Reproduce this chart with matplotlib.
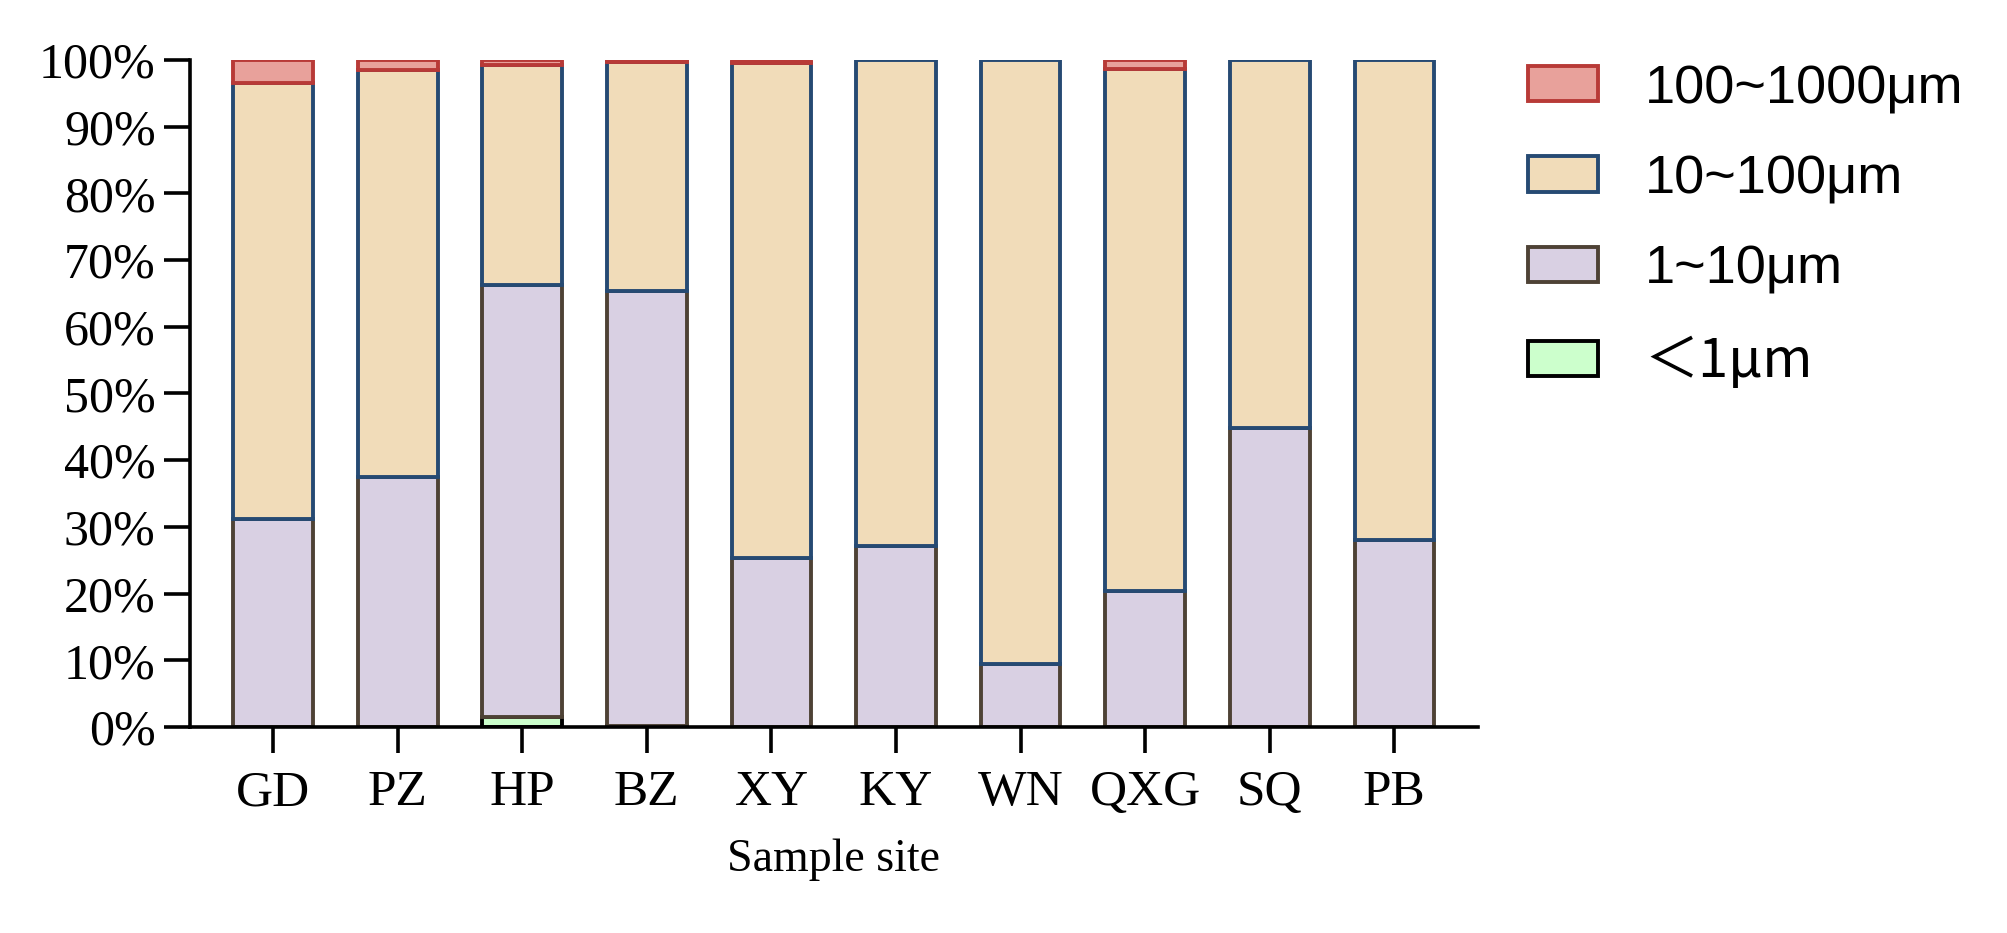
import matplotlib
matplotlib.use("Agg")
import matplotlib.pyplot as plt
from matplotlib.patches import Patch
import numpy as np

# sites and size-class shares (%)
sites = ["GD", "PZ", "HP", "BZ", "XY", "KY", "WN", "QXG", "SQ", "PB"]
lt1 = [0, 0, 1.5, 0.2, 0, 0, 0, 0, 0, 0]
s1_10 = [31.2, 37.5, 64.8, 65.1, 25.4, 27.1, 9.5, 20.4, 44.9, 28.1]
s10_100 = [65.3, 61.0, 33.0, 34.4, 74.1, 72.9, 90.5, 78.2, 55.1, 71.9]
s100_1000 = [3.5, 1.5, 0.7, 0.3, 0.5, 0, 0, 1.4, 0, 0]

labels = ["＜1μm", "1~10μm", "10~100μm", "100~1000μm"]
fills = ["#CCFFCC", "#D9D0E3", "#F1DCB9", "#E8A19B"]
edges = ["#000000", "#4E4235", "#264A73", "#B83A37"]

fig = plt.figure(figsize=(20.08, 9.33), dpi=100)
ax = fig.add_axes([0.0946, 0.2208, 0.6414, 0.7149])

x = np.arange(len(sites))
bottom = np.zeros(len(sites))
for vals, fc, ec in zip([lt1, s1_10, s10_100, s100_1000], fills, edges):
    vals = np.array(vals, dtype=float)
    m = vals > 0  # empty classes are not drawn
    ax.bar(x[m], vals[m], width=0.64, bottom=bottom[m], color=fc,
           edgecolor=ec, linewidth=2.8)
    bottom += vals

ax.set_xlim(-0.667, 9.67)
ax.set_ylim(0, 100)
ax.set_yticks(np.arange(0, 101, 10))
ax.set_yticklabels([f"{v}%" for v in range(0, 101, 10)])
ax.set_xticks(x)
ax.set_xticklabels(sites)

for s in ["top", "right"]:
    ax.spines[s].set_visible(False)
for s in ["left", "bottom"]:
    ax.spines[s].set_linewidth(2.6)
ax.tick_params(width=2.6, length=18.7, labelsize=37, direction="out")
ax.tick_params(axis="y", pad=6, labelsize=36)
ax.tick_params(axis="x", pad=12)
for t in ax.get_xticklabels() + ax.get_yticklabels():
    t.set_fontfamily("Liberation Serif")
ax.set_xlabel("Sample site", fontsize=33, fontfamily="Liberation Serif", labelpad=16)

handles = [Patch(facecolor=fc, edgecolor=ec, linewidth=2.8)
           for fc, ec in zip(fills, edges)]
leg = fig.legend(handles[::-1], labels[::-1], loc="upper left",
                 bbox_to_anchor=(1528 / 2008, 1 - 64 / 933), frameon=False,
                 borderpad=0, borderaxespad=0, handlelength=1.3,
                 handleheight=0.62, handletextpad=0.85, labelspacing=0.74,
                 prop={"family": ["Liberation Sans", "Noto Sans CJK SC"], "size": 39})
leg.get_texts()[-1].set_fontfamily(["Noto Sans CJK SC"])

fig.savefig("out.png", dpi=100)
